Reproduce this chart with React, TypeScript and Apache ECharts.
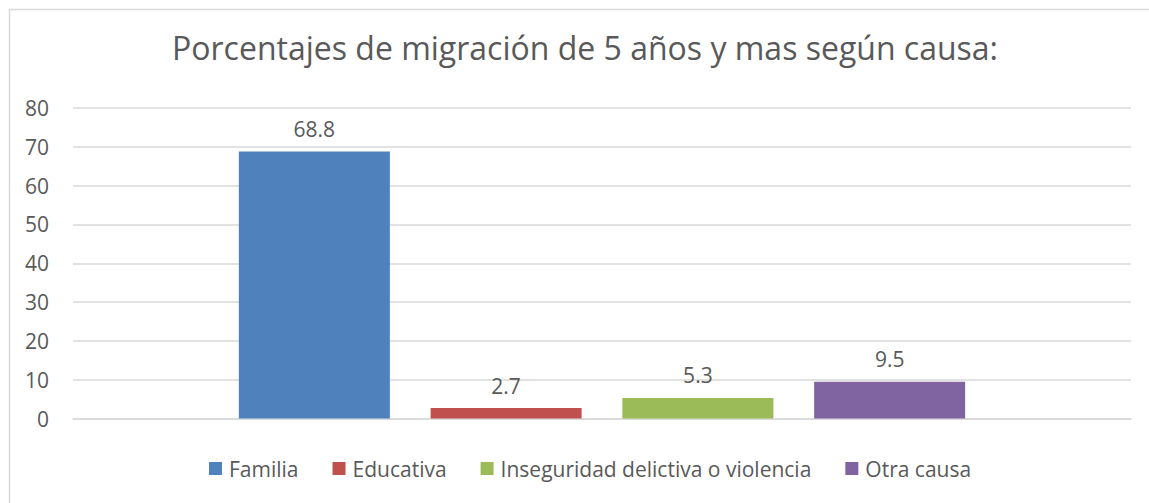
import React, { useEffect, useRef } from "react";
import * as echarts from "echarts";

const titleText = "Porcentajes de migración de 5 años y mas según causa:";
const categories = [""];
const seriesNames = ["Familia", "Educativa", "Inseguridad delictiva o violencia", "Otra causa"];
const seriesValues = [68.8, 2.7, 5.3, 9.5];
const seriesColors = ["#4F81BD", "#C0504D", "#9BBB59", "#8064A2"];
const yTicks = { min: 0, max: 80, interval: 10 };

const FONT = "'Open Sans', sans-serif";
const TEXT = "#595959";

export default function App() {
  const ref = useRef<HTMLDivElement>(null);
  useEffect(() => {
    if (!ref.current) return;
    const chart = echarts.init(ref.current, null, { renderer: "svg" });
    chart.setOption({
      animation: false,
      backgroundColor: "#ffffff",
      title: {
        text: titleText,
        left: 172,
        top: 31,
        padding: 0,
        textStyle: { fontFamily: FONT, fontSize: 32, fontWeight: "normal", color: TEXT },
      },
      graphic: [
        {
          type: "rect",
          shape: { x: 9.5, y: 9.5, width: 1160, height: 520 },
          style: { fill: "none", stroke: "#d9d9d9", lineWidth: 1.5 },
          silent: true,
        },
      ],
      legend: {
        bottom: 19,
        left: 204,
        itemWidth: 13,
        itemHeight: 13,
        itemGap: 34,
        icon: "rect",
        textStyle: { fontFamily: FONT, fontSize: 21, color: TEXT, padding: [0, 0, 0, 2] },
        data: seriesNames,
      },
      grid: { left: 73, right: 18, top: 108, bottom: 84.5 },
      xAxis: {
        type: "category",
        data: categories,
        axisLine: { show: true, lineStyle: { color: "#d9d9d9", width: 1.5 } },
        axisTick: { show: false },
        axisLabel: { show: false },
      },
      yAxis: {
        type: "value",
        min: yTicks.min,
        max: yTicks.max,
        interval: yTicks.interval,
        axisLine: { show: false },
        axisTick: { show: false },
        splitLine: { lineStyle: { color: "#d9d9d9", width: 1.5 } },
        axisLabel: { fontFamily: FONT, fontSize: 21, color: TEXT, margin: 24 },
      },
      series: seriesNames.map((name, i) => ({
        name,
        type: "bar",
        data: [seriesValues[i]],
        barWidth: 151,
        barGap: "27%",
        itemStyle: { color: seriesColors[i] },
        label: {
          show: true,
          position: "top",
          distance: 12,
          fontFamily: FONT,
          fontSize: 21,
          color: TEXT,
        },
      })),
    });
    return () => chart.dispose();
  }, []);
  return (
    <div
      ref={ref}
      style={{ position: "absolute", left: 0, top: 0, width: 1149, height: 503 }}
    />
  );
}
